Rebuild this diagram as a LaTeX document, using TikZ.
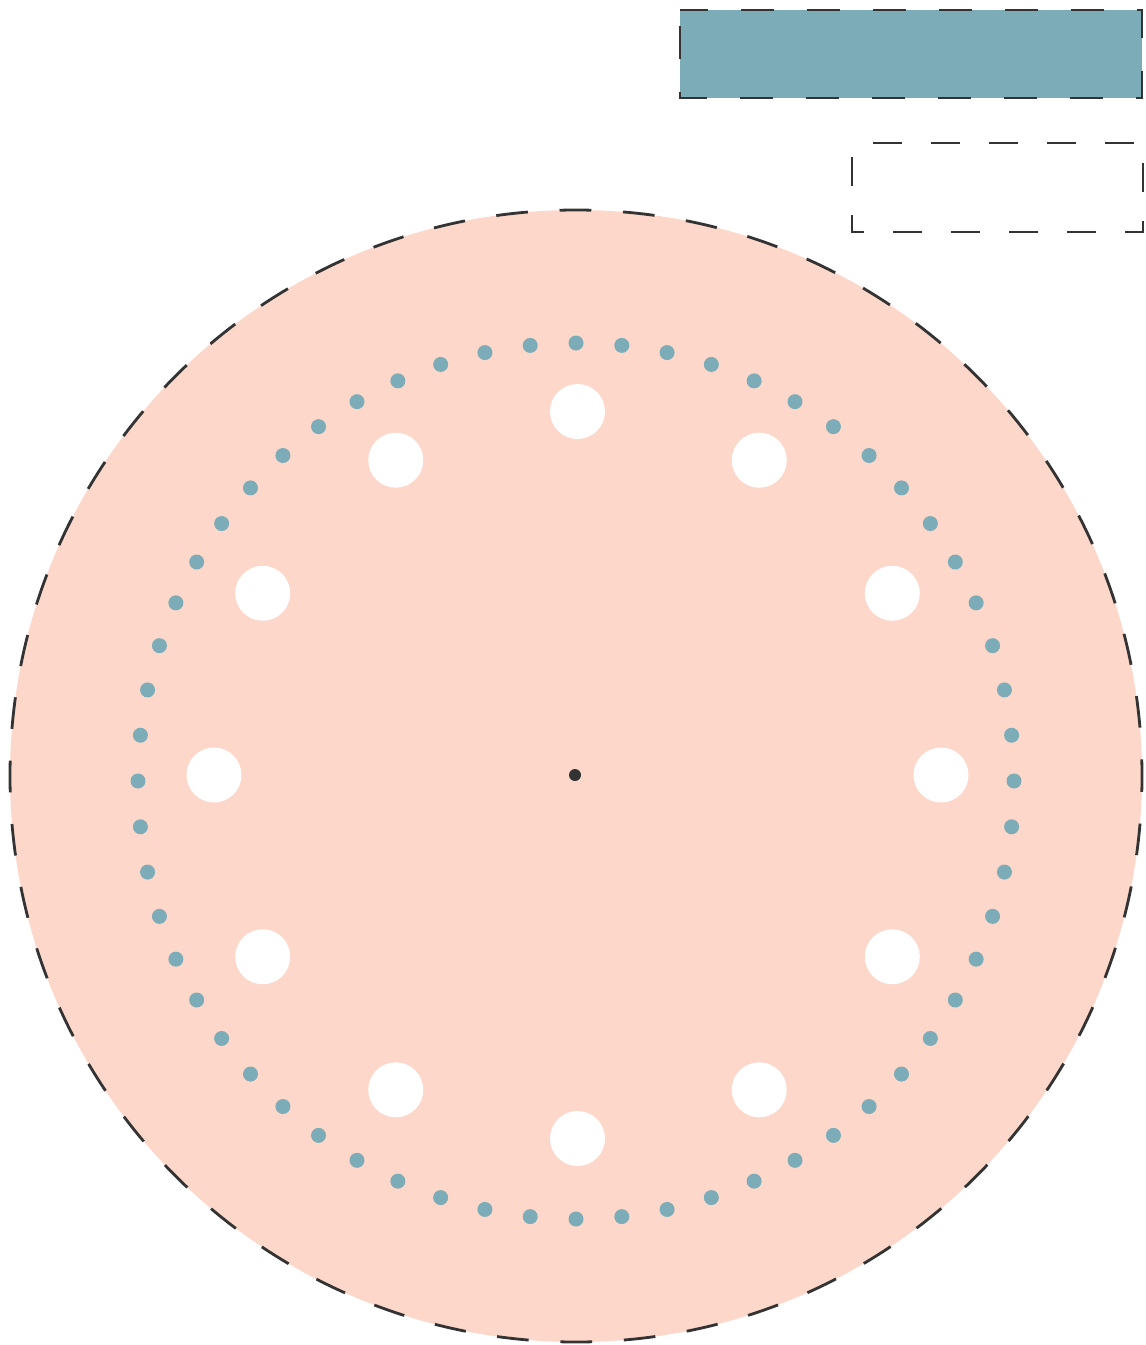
\documentclass[tikz,border=0pt]{standalone}
\usetikzlibrary{calc}
\definecolor{teal1}{HTML}{7BACB7}
\definecolor{salmon}{HTML}{FCD7CA}
\definecolor{dark}{HTML}{333333}
\tikzset{
  dashline/.style={draw=dark, line width=2.8pt, dash pattern=on 31.75pt off 31.75pt},
  ringdot/.style={fill=teal1},
  hole/.style={fill=white},
}
\begin{document}
\begin{tikzpicture}[x=1pt,y=-1pt]
\useasboundingbox (0,0) rectangle (1146,1345);
% plate
\fill[salmon] (576,776) circle (566);
\draw[dashline, dash phase=15.9pt] (576,776) circle (566);
% dots ring
\foreach \a in {0,6,...,354}
  \fill[ringdot] ($(576,781)+(\a:438)$) circle (7.5);
% holes
\foreach \a in {0,30,...,330}
  \fill[hole] ($(577.5,775)+(\a:363.5)$) circle (27.5);
% center
\fill[dark] (575,775) circle (6);
% legend boxes
\fill[teal1] (680,10) rectangle (1142,98);
\draw[dashline, dash pattern=on 33pt off 33pt, dash phase=-16pt] (680,10) rectangle (1142,98);
\draw[dashline, dash pattern=on 29pt off 29pt, dash phase=-14pt] (852,143) rectangle (1143,232);
\end{tikzpicture}
\end{document}
